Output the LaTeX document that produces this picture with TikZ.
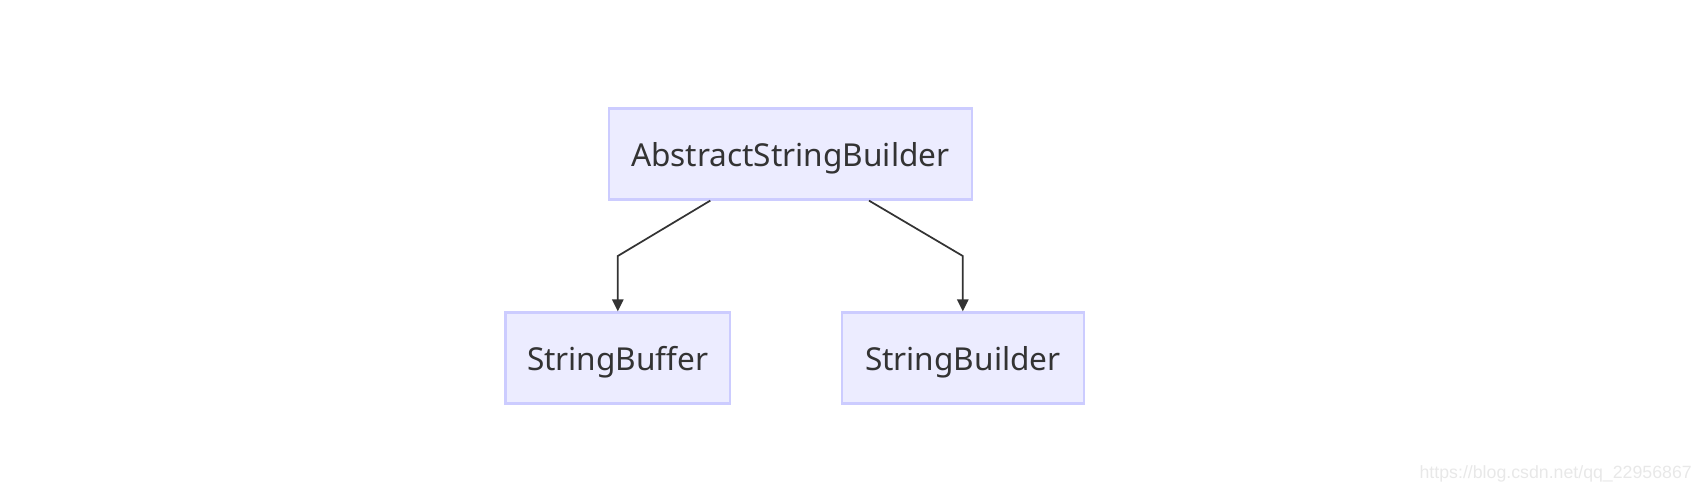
\documentclass[tikz,border=0pt]{standalone}
\usepackage{fontspec}
\setmainfont{Noto Sans}
\newfontfamily\wmfont{Liberation Sans}
\usetikzlibrary{arrows.meta}

\definecolor{boxfill}{RGB}{236,236,255}
\definecolor{boxline}{RGB}{204,204,255}
\definecolor{inkgray}{RGB}{51,51,51}
\definecolor{markgray}{RGB}{232,232,232}

\tikzset{
  classbox/.style={draw=boxline, fill=boxfill, line width=1.6pt, text=inkgray,
    minimum height=68.3pt, inner sep=0pt, text depth=0pt, font=\fontsize{23.7}{28}\selectfont},
  inherit/.style={draw=inkgray, line width=1.3pt, -{Triangle[length=9pt,width=8.5pt]}}
}

\begin{document}
\begin{tikzpicture}[x=0.75pt,y=0.75pt,yscale=-1,xscale=1]
\useasboundingbox (0,0) rectangle (1701,493);

% Class boxes
\node [classbox, minimum width=272.6pt] (asb) at (790.3,154) {AbstractStringBuilder};
\node [classbox, minimum width=168.4pt] (sbuf) at (617.8,358) {StringBuffer};
\node [classbox, minimum width=181.4pt] (sbld) at (962.8,358) {StringBuilder};

% Inheritance edges
\draw [inherit] ([xshift=-60pt]asb.south) -- (sbuf.north |- 0,256) -- (sbuf.north);
\draw [inherit] ([xshift=59pt]asb.south) -- (sbld.north |- 0,256) -- (sbld.north);

% Watermark
\node [anchor=east, inner sep=0pt, text=markgray, font=\wmfont\fontsize{13.3}{16}\selectfont] (mark) at (1692,474) {https://blog.csdn.net/qq\_22956867};

\end{tikzpicture}
\end{document}
